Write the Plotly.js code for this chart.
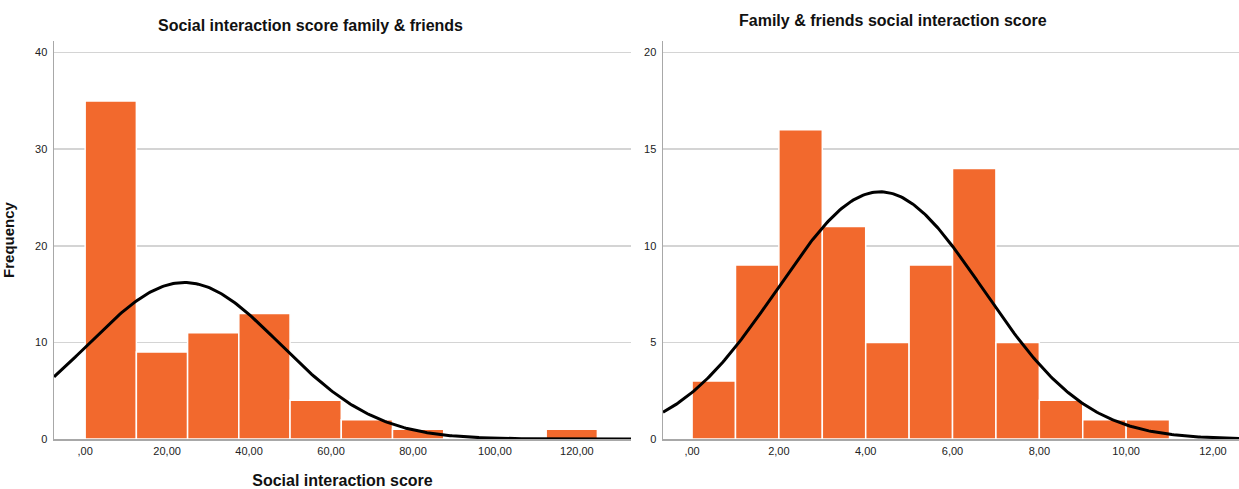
<!DOCTYPE html>
<html><head><meta charset="utf-8">
<script src="https://cdn.plot.ly/plotly-3.0.1.min.js"></script>
<style>body{margin:0;background:#fff}#c{width:1239px;height:489px}</style>
</head><body><div id="c"></div>
<script>
// Left histogram: social interaction score (bin width 12.5)
const leftBinStart = [0, 12.5, 25, 37.5, 50, 62.5, 75, 87.5, 100, 112.5];
const leftCounts   = [35, 9, 11, 13, 4, 2, 1, 0, 0, 1];
const leftBinWidth = 12.5;
const leftMean = 24.2, leftSD = 23.4;
const leftTickVals = [0, 20, 40, 60, 80, 100, 120];
const leftTickText = [",00", "20,00", "40,00", "60,00", "80,00", "100,00", "120,00"];
const leftYTicks = [0, 10, 20, 30, 40];

// Right histogram: family & friends score (bin width 1)
const rightBinStart = [0, 1, 2, 3, 4, 5, 6, 7, 8, 9, 10];
const rightCounts   = [3, 9, 16, 11, 5, 9, 14, 5, 2, 1, 1];
const rightBinWidth = 1;
const rightMean = 4.33, rightSD = 2.37;
const rightTickVals = [0, 2, 4, 6, 8, 10, 12];
const rightTickText = [",00", "2,00", "4,00", "6,00", "8,00", "10,00", "12,00"];
const rightYTicks = [0, 5, 10, 15, 20];

const W = 1239, H = 489;
const px = v => v / W, py = v => 1 - v / H;

function normalCurve(mean, sd, n, bw, x0, x1) {
  const xs = [], ys = [], steps = 300;
  for (let i = 0; i <= steps; i++) {
    const x = x0 + (x1 - x0) * i / steps;
    xs.push(x);
    ys.push(n * bw / (sd * Math.sqrt(2 * Math.PI)) * Math.exp(-0.5 * ((x - mean) / sd) ** 2));
  }
  return {xs, ys};
}
const sum = a => a.reduce((s, v) => s + v, 0);

const barColor = '#F2692D';
const leftRange = [-7.6, 133.2], rightRange = [-0.67, 12.6];
const lc = normalCurve(leftMean, leftSD, sum(leftCounts), leftBinWidth, leftRange[0], leftRange[1]);
const rc = normalCurve(rightMean, rightSD, sum(rightCounts), rightBinWidth, rightRange[0], rightRange[1]);

const traces = [
  {type: 'bar', x: leftBinStart.map(s => s + leftBinWidth / 2), y: leftCounts, width: leftBinWidth,
   marker: {color: barColor, line: {color: '#ffffff', width: 1.5}}, xaxis: 'x', yaxis: 'y', hoverinfo: 'none'},
  {type: 'scatter', mode: 'lines', x: lc.xs, y: lc.ys, line: {color: '#000', width: 3}, xaxis: 'x', yaxis: 'y', hoverinfo: 'none'},
  {type: 'bar', x: rightBinStart.map(s => s + rightBinWidth / 2), y: rightCounts, width: rightBinWidth,
   marker: {color: barColor, line: {color: '#ffffff', width: 1.5}}, xaxis: 'x2', yaxis: 'y2', hoverinfo: 'none'},
  {type: 'scatter', mode: 'lines', x: rc.xs, y: rc.ys, line: {color: '#000', width: 3}, xaxis: 'x2', yaxis: 'y2', hoverinfo: 'none'}
];

const FF = 'Liberation Sans, Arial, sans-serif';
const tickFont = {family: FF, size: 11, color: '#222'};
const yDom = [py(439), py(41)];
const xBase = {showgrid: false, zeroline: false, showline: true, linecolor: '#a8a8a8', linewidth: 1.5,
  ticks: '', tickfont: tickFont, fixedrange: true, ticklabelstandoff: 1};
const yBase = {showgrid: true, gridcolor: '#d4d4d4', gridwidth: 1.5, zeroline: false, showline: true,
  linecolor: '#a8a8a8', linewidth: 1.5, ticks: '', tickfont: tickFont, fixedrange: true, ticklabelstandoff: 3};

const layout = {
  width: W, height: H, margin: {l: 0, r: 0, t: 0, b: 0}, showlegend: false,
  paper_bgcolor: '#fff', plot_bgcolor: '#fff', barmode: 'overlay',
  font: {family: FF},
  xaxis: Object.assign({}, xBase, {domain: [px(54), px(631)], range: leftRange, anchor: 'y',
    tickmode: 'array', tickvals: leftTickVals, ticktext: leftTickText,
    title: {text: 'Social interaction score', font: {size: 16, color: '#111', family: FF, weight: 'bold'}, standoff: 20}}),
  yaxis: Object.assign({}, yBase, {domain: yDom, range: [0, 41.2], anchor: 'x',
    tickmode: 'array', tickvals: leftYTicks,
    title: {text: 'Frequency', font: {size: 15, color: '#111', family: FF, weight: 'bold'}, standoff: 18}}),
  xaxis2: Object.assign({}, xBase, {domain: [px(663), 1], range: rightRange, anchor: 'y2',
    tickmode: 'array', tickvals: rightTickVals, ticktext: rightTickText}),
  yaxis2: Object.assign({}, yBase, {domain: yDom, range: [0, 20.6], anchor: 'x2',
    tickmode: 'array', tickvals: rightYTicks}),
  annotations: [
    {text: '<b>Social interaction score family &amp; friends</b>', xref: 'paper', yref: 'paper',
     x: px(310), y: py(25), xanchor: 'center', yanchor: 'middle', showarrow: false,
     font: {size: 16, color: '#111', family: FF}},
    {text: '<b>Family &amp; friends social interaction score</b>', xref: 'paper', yref: 'paper',
     x: px(893), y: py(20), xanchor: 'center', yanchor: 'middle', showarrow: false,
     font: {size: 16, color: '#111', family: FF}}
  ]
};
Plotly.newPlot('c', traces, layout, {staticPlot: true, displayModeBar: false});
</script></body></html>
